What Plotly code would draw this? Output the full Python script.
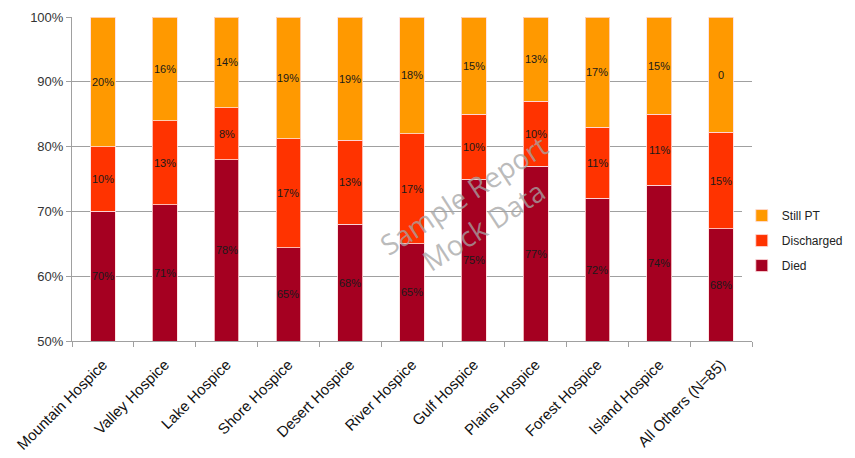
import plotly.graph_objects as go

categories = ["Mountain Hospice", "Valley Hospice", "Lake Hospice", "Shore Hospice",
              "Desert Hospice", "River Hospice", "Gulf Hospice", "Plains Hospice",
              "Forest Hospice", "Island Hospice", "All Others (N=85)"]
died = [70, 71, 78, 65, 68, 65, 75, 77, 72, 74, 68]
discharged = [10, 13, 8, 17, 13, 17, 10, 10, 11, 11, 15]
still_pt = [20, 16, 14, 19, 19, 18, 15, 13, 17, 15, 18]
still_pt_labels = ["20%", "16%", "14%", "19%", "19%", "18%", "15%", "13%", "17%", "15%", "0"]
y_ticks = [50, 60, 70, 80, 90, 100]

C_DIED = "#A50021"
C_DIS = "#FF3300"
C_STILL = "#FF9900"
YMIN = 50
FONT = "Liberation Sans, Arial, sans-serif"

fig = go.Figure()
series = [("Died", died, C_DIED), ("Discharged", discharged, C_DIS), ("Still PT", still_pt, C_STILL)]
for rank, (name, vals, col) in enumerate(series):
    fig.add_trace(go.Bar(x=categories, y=vals, name=name, marker_color=col, legendgroup=name,
                         legendrank=3 - rank,
                         marker_line=dict(color="rgba(255,220,220,0.8)", width=1),
                         width=0.4))

# labels at the middle of each visible normalized segment
annotations = []
for i, cat in enumerate(categories):
    tot = died[i] + discharged[i] + still_pt[i]
    lo = 0.0
    labs = [f"{died[i]}%", f"{discharged[i]}%", still_pt_labels[i]]
    for (name, vals, col), lab in zip(series, labs):
        hi = lo + vals[i] * 100.0 / tot
        vlo = max(lo, YMIN)
        mid = (vlo + hi) / 2
        annotations.append(dict(x=cat, y=mid, xref="x", yref="y", text=lab, showarrow=False,
                                font=dict(family=FONT, size=11, color="#1a1a1a")))
        lo = hi

annotations.append(dict(x=0.59, y=0.405, xref="paper", yref="paper",
                        text="Sample Report<br>Mock Data", showarrow=False, textangle=-33,
                        font=dict(family="Open Sans, sans-serif", size=28, color="rgba(165,165,165,0.75)")))

fig.update_layout(
    width=847, height=450,
    barmode="stack", barnorm="percent",
    plot_bgcolor="white", paper_bgcolor="white",
    margin=dict(l=64, r=103, t=9, b=117, autoexpand=False),
    showlegend=True,
    legend=dict(x=0.985, y=0.31, xanchor="left", yanchor="middle", traceorder="grouped",
                font=dict(family=FONT, size=12, color="#222"),
                itemwidth=30, tracegroupgap=6),
    annotations=annotations,
)
fig.update_xaxes(tickangle=-45, showline=True, linecolor="#a0a0a0", linewidth=1,
                 ticks="outside", tickson="boundaries", ticklen=5, tickcolor="#a0a0a0",
                 automargin=False, ticklabelstandoff=8,
                 tickfont=dict(family=FONT, size=15, color="#111"))
fig.update_yaxes(range=[50, 100], tickvals=y_ticks, ticktext=[f"{v}%" for v in y_ticks],
                 showgrid=True, gridcolor="#a0a0a0", gridwidth=1,
                 showline=True, linecolor="#a0a0a0", linewidth=1,
                 ticks="outside", ticklen=5, tickcolor="#a0a0a0", zeroline=False,
                 automargin=False,
                 tickfont=dict(family=FONT, size=13, color="#333"))

fig.write_html("out.html")
